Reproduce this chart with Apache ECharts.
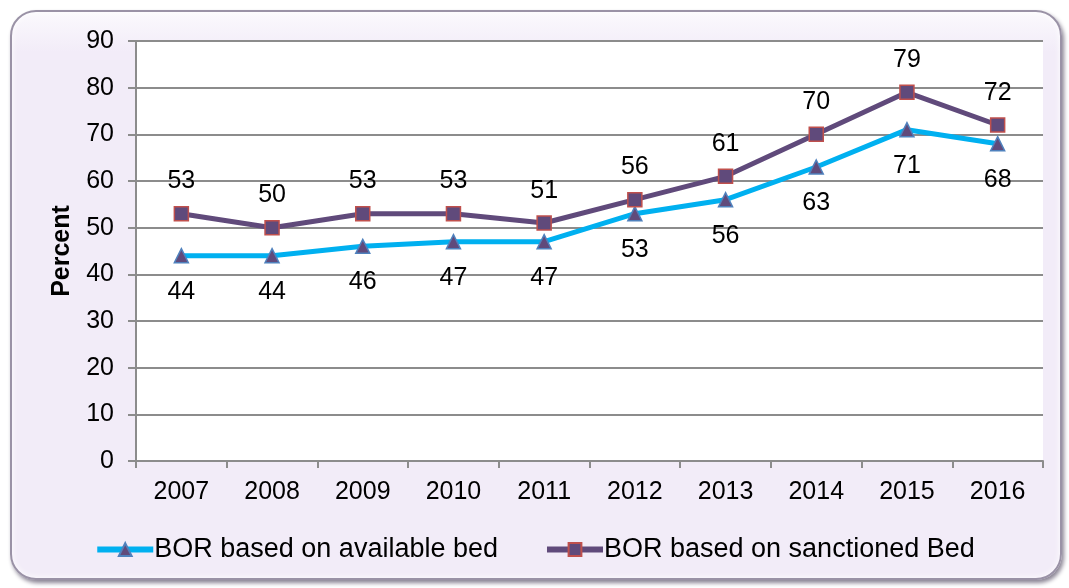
<!DOCTYPE html>
<html><head><meta charset="utf-8">
<script src="https://cdn.jsdelivr.net/npm/echarts@6/dist/echarts.min.js"></script>
<style>
html,body{margin:0;padding:0;background:#fff;width:1069px;height:588px;overflow:hidden}
#frame{position:absolute;left:10px;top:10px;width:1048px;height:566px;border-radius:26px;border:2px solid #9a92a6;
 box-shadow:2px 3px 4px #8a8494, inset 0 0 6px #fff;background:linear-gradient(#fbf9fd 0px,#f2ecf8 40px,#f2ecf8 100%);}
#c{position:absolute;left:0;top:0;width:1069px;height:588px}
</style></head>
<body><div id="frame"></div><div id="c"></div>
<script>
const years = ['2007','2008','2009','2010','2011','2012','2013','2014','2015','2016'];
const availableBed = [44,44,46,47,47,53,56,63,71,68];
const sanctionedBed = [53,50,53,53,51,56,61,70,79,72];
const seriesNames = ['BOR based on available bed','BOR based on sanctioned Bed'];

const chart = echarts.init(document.getElementById('c'), null, {renderer:'canvas'});
const font = 'Liberation Sans, Arial, sans-serif';
chart.setOption({
  animation:false,
  backgroundColor:'transparent',
  grid:{left:136,right:26,top:41,bottom:127,containLabel:false,show:true,backgroundColor:'#fff',borderWidth:0},
  legend:{top:531,left:'center',itemWidth:56,itemHeight:16,itemGap:46,
    lineStyle:{width:6},
    textStyle:{fontFamily:font,fontSize:27,color:'#000',padding:[0,0,0,-4]},
    data:seriesNames},
  xAxis:{type:'category',data:years,boundaryGap:true,
    axisLine:{lineStyle:{color:'#8c8c8c',width:2}},
    axisTick:{show:true,alignWithLabel:false,length:7,lineStyle:{color:'#8c8c8c',width:2}},
    axisLabel:{fontFamily:font,fontSize:25,color:'#000',margin:19}},
  yAxis:{type:'value',min:0,max:90,interval:10,
    name:'Percent',nameLocation:'middle',nameGap:61,nameRotate:90,
    nameTextStyle:{fontFamily:font,fontSize:25,fontWeight:'bold',color:'#000'},
    axisLine:{show:true,lineStyle:{color:'#8c8c8c',width:2}},
    axisTick:{show:true,length:8,lineStyle:{color:'#8c8c8c',width:2}},
    splitLine:{lineStyle:{color:'#8c8c8c',width:2}},
    axisLabel:{fontFamily:font,fontSize:25,color:'#000',margin:22}},
  series:[
    {name:seriesNames[0],type:'line',data:availableBed,
      lineStyle:{color:'#00b0f0',width:5},
      symbol:'triangle',symbolSize:14,
      itemStyle:{color:'#604a7b',borderColor:'#4f81bd',borderWidth:1.5},
      label:{show:true,position:'bottom',distance:16,fontFamily:font,fontSize:25,color:'#000'}},
    {name:seriesNames[1],type:'line',data:sanctionedBed,
      lineStyle:{color:'#604a7b',width:5},
      symbol:'rect',symbolSize:14,
      itemStyle:{color:'#604a7b',borderColor:'#c0504d',borderWidth:1.5},
      label:{show:true,position:'top',distance:12,fontFamily:font,fontSize:25,color:'#000'}}
  ]
});
</script></body></html>
